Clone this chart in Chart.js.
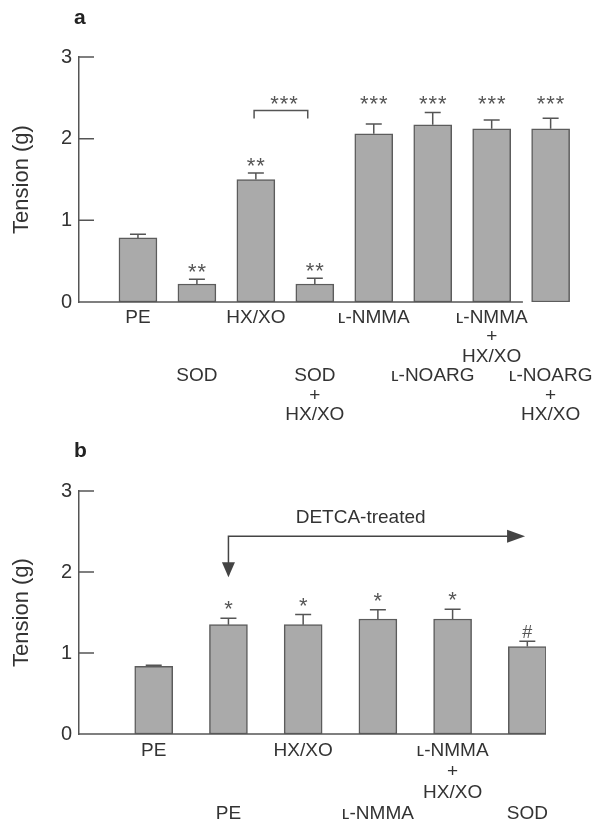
<!DOCTYPE html>
<html>
<head>
<meta charset="utf-8">
<script src="https://cdn.jsdelivr.net/npm/chart.js@4.4.0/dist/chart.umd.min.js"></script>
<style>
  body { margin: 0; background: #fff; }
  canvas { display: block; }
</style>
</head>
<body>
<canvas id="chartA" width="593" height="430"></canvas>
<canvas id="chartB" width="593" height="395"></canvas>
<script>
// panel a
const labelsA = [['PE'], ['SOD'], ['HX/XO'], ['SOD', '+', 'HX/XO'], ['ʟ-NMMA'], ['ʟ-NOARG'], ['ʟ-NMMA', '+', 'HX/XO'], ['ʟ-NOARG', '+', 'HX/XO']];
const tensionA = [0.785, 0.22, 1.50, 0.22, 2.06, 2.17, 2.12, 2.12];
const semA = [0.045, 0.06, 0.08, 0.07, 0.12, 0.15, 0.11, 0.13];
const marksA = ['', '**', '**', '**', '***', '***', '***', '***'];

// panel b (bars 2-6 DETCA-treated)
const labelsB = [['PE'], ['PE'], ['HX/XO'], ['ʟ-NMMA'], ['ʟ-NMMA', '+', 'HX/XO'], ['SOD']];
const tensionB = [0.835, 1.35, 1.35, 1.42, 1.42, 1.08];
const semB = [0.015, 0.08, 0.125, 0.115, 0.12, 0.065];
const marksB = ['', '*', '*', '*', '*', '#'];

const yTicks = [0, 1, 2, 3];

const FONT = "'Liberation Sans', Arial, sans-serif";
const INK = '#333';
const AXIS = '#555';

function drawMark(ctx, text, cx, cy) {
  ctx.fillStyle = '#555';
  ctx.textAlign = 'center';
  ctx.textBaseline = 'alphabetic';
  if (text === '#') {
    ctx.font = '18px ' + FONT;
    ctx.fillText('#', cx, cy + 6.5);
    return;
  }
  ctx.font = '22px ' + FONT;
  const n = text.length;
  for (let k = 0; k < n; k++) {
    ctx.fillText('*', cx + (k - (n - 1) / 2) * 9.5, cy + 12.7);
  }
}

function overlay(o) {
  return {
    id: 'overlay',
    afterDraw(chart) {
      const { ctx, chartArea, scales: { x, y } } = chart;
      const bars = chart.getDatasetMeta(0).data;
      ctx.save();
      ctx.strokeStyle = AXIS;
      ctx.lineWidth = 1.5;
      ctx.beginPath();
      // ticks point into the plot
      y.ticks.forEach(t => {
        const py = y.getPixelForValue(t.value);
        ctx.moveTo(chartArea.left, py);
        ctx.lineTo(chartArea.left + 15, py);
      });
      const y0 = y.getPixelForValue(0);
      ctx.moveTo(chartArea.left, y0);
      ctx.lineTo(x.getPixelForValue(o.baseEnd), y0);
      // upper error bars
      bars.forEach((b, i) => {
        const top = y.getPixelForValue(o.values[i] + o.sem[i]);
        ctx.moveTo(b.x, b.y);
        ctx.lineTo(b.x, top);
        ctx.moveTo(b.x - 8, top);
        ctx.lineTo(b.x + 8, top);
      });
      ctx.stroke();

      ctx.fillStyle = '#222';
      ctx.font = 'bold 21px ' + FONT;
      ctx.textAlign = 'left';
      ctx.textBaseline = 'alphabetic';
      ctx.fillText(o.letter, chartArea.left - 5, o.letterBase);

      o.extra(chart, ctx, bars);
      ctx.restore();
    }
  };
}

function config(labels, values, xMax, top, right, axisH, lineH, plugin) {
  return {
    type: 'bar',
    data: {
      datasets: [{
        data: values.map((v, i) => ({ x: i, y: v })),
        backgroundColor: '#aaaaaa',
        borderColor: '#5c5c5c',
        borderWidth: 1.5,
        borderSkipped: false,
        barThickness: 38
      }]
    },
    options: {
      responsive: false,
      animation: false,
      layout: { padding: { top: top, right: right, left: 0, bottom: 0 } },
      plugins: { legend: { display: false }, tooltip: { enabled: false } },
      scales: {
        x: {
          type: 'linear',
          offset: false,
          bounds: 'data',
          min: -1,
          max: xMax,
          grid: { display: false, drawTicks: false, offset: false },
          border: { display: false },
          afterBuildTicks: s => { s.ticks = labels.map((_, i) => ({ value: i })); },
          afterFit: s => { s.height = axisH; s.paddingLeft = 0; s.paddingRight = 0; },
          ticks: {
            autoSkip: false,
            maxRotation: 0,
            minRotation: 0,
            padding: 6,
            color: INK,
            font: { family: FONT, size: 19, lineHeight: lineH },
            // every second label sits on a lower row
            callback: v => (v % 2 ? ['', '', ''].concat(labels[v]) : labels[v])
          }
        },
        y: {
          min: 0,
          max: 3,
          afterBuildTicks: s => { s.ticks = yTicks.map(v => ({ value: v })); },
          afterFit: s => { s.width = 79; },
          grid: { display: false, drawTicks: false },
          border: { display: true, color: AXIS, width: 1.5 },
          ticks: { padding: 7, color: INK, font: { family: FONT, size: 20 } },
          title: {
            display: true,
            text: 'Tension (g)',
            color: INK,
            font: { family: FONT, size: 22, lineHeight: 1.2 },
            padding: { top: 9, bottom: 0 }
          }
        }
      }
    },
    plugins: [plugin]
  };
}

new Chart(document.getElementById('chartA'), config(labelsA, tensionA, 7.6, 57, 7, 128, '19.5px', overlay({
  values: tensionA, sem: semA, baseEnd: 6.53, letter: 'a', letterBase: 24,
  extra(chart, ctx, bars) {
    const { x, y } = chart.scales;
    const tops = bars.map((b, i) => y.getPixelForValue(tensionA[i] + semA[i]));
    const rowY = Math.min(...tops.filter((_, i) => marksA[i] === '***')) - 14;
    bars.forEach((b, i) => {
      if (marksA[i]) drawMark(ctx, marksA[i], b.x, marksA[i] === '***' ? rowY : tops[i] - 13);
    });
    // HX/XO vs SOD + HX/XO
    const bl = x.getPixelForValue(1.97), br = x.getPixelForValue(2.88), by = rowY + 12;
    ctx.strokeStyle = AXIS;
    ctx.beginPath();
    ctx.moveTo(bl, by + 8);
    ctx.lineTo(bl, by);
    ctx.lineTo(br, by);
    ctx.lineTo(br, by + 8);
    ctx.stroke();
    drawMark(ctx, '***', (bl + br) / 2 + 3, rowY);
  }
})));

new Chart(document.getElementById('chartB'), config(labelsB, tensionB, 5.25, 61, 47, 91, '21px', overlay({
  values: tensionB, sem: semB, baseEnd: 5.25, letter: 'b', letterBase: 27,
  extra(chart, ctx, bars) {
    const { x, y } = chart.scales;
    bars.forEach((b, i) => {
      const top = y.getPixelForValue(tensionB[i] + semB[i]);
      if (marksB[i]) drawMark(ctx, marksB[i], b.x, top - (marksB[i] === '#' ? 10 : 14.5));
    });
    // DETCA-treated arrow
    const x1 = x.getPixelForValue(1), x2 = x.getPixelForValue(4.97);
    const hy = y.getPixelForValue(2.44), tip = y.getPixelForValue(1.935);
    ctx.strokeStyle = '#444';
    ctx.fillStyle = '#444';
    ctx.lineWidth = 1.5;
    ctx.beginPath();
    ctx.moveTo(x1, tip - 14);
    ctx.lineTo(x1, hy);
    ctx.lineTo(x2 - 17, hy);
    ctx.stroke();
    ctx.beginPath();
    ctx.moveTo(x1, tip);
    ctx.lineTo(x1 - 6.5, tip - 15);
    ctx.lineTo(x1 + 6.5, tip - 15);
    ctx.closePath();
    ctx.fill();
    ctx.beginPath();
    ctx.moveTo(x2, hy);
    ctx.lineTo(x2 - 18, hy - 6.5);
    ctx.lineTo(x2 - 18, hy + 6.5);
    ctx.closePath();
    ctx.fill();
    ctx.fillStyle = INK;
    ctx.font = '19px ' + FONT;
    ctx.textAlign = 'left';
    ctx.textBaseline = 'middle';
    ctx.fillText('DETCA-treated', x.getPixelForValue(1.9), y.getPixelForValue(2.675));
  }
})));
</script>
</body>
</html>
